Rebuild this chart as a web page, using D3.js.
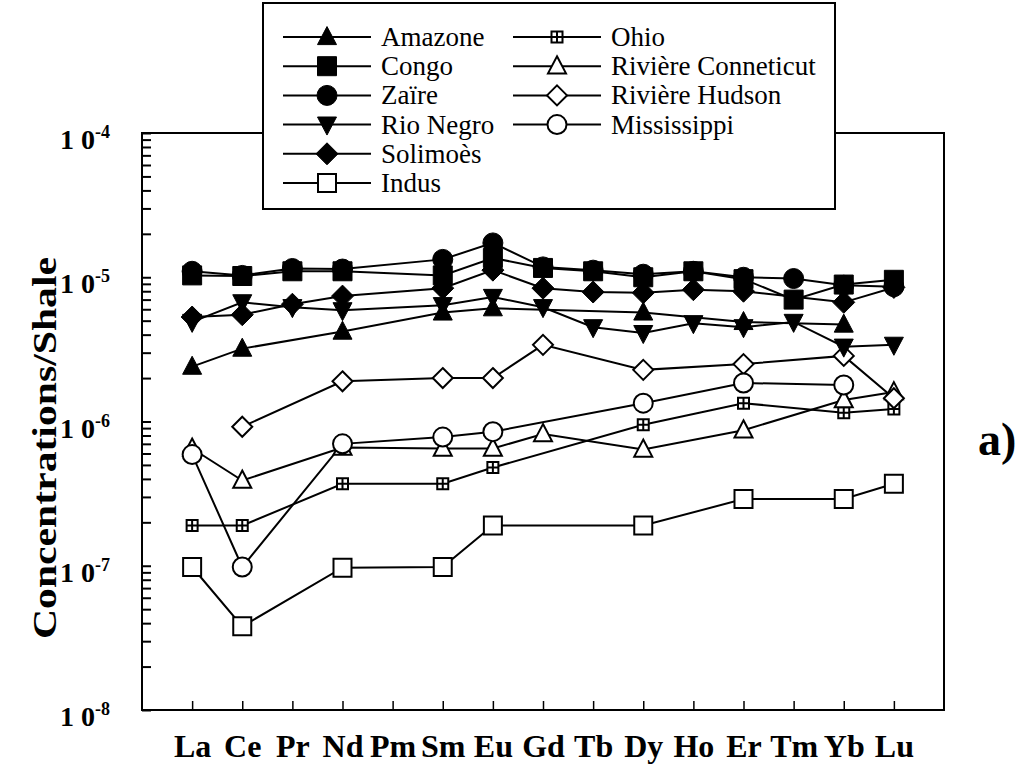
<!DOCTYPE html>
<html>
<head>
<meta charset="utf-8">
<script src="https://cdn.jsdelivr.net/npm/d3@7"></script>
<style>
  body { margin: 0; background: #fff; }
  svg { display: block; }
</style>
</head>
<body>
<div id="graph"></div>
<script>
// rare earth elements on the x axis
const elements = ["La", "Ce", "Pr", "Nd", "Pm", "Sm", "Eu", "Gd", "Tb", "Dy", "Ho", "Er", "Tm", "Yb", "Lu"]
const decades = [1e-8, 1e-7, 1e-6, 1e-5, 1e-4]
const decadeExponents = ["-8", "-7", "-6", "-5", "-4"]

// concentrations / shale, null = not measured
const amazone     = [2.4e-6, 3.2e-6, null, 4.2e-6, null, 5.7e-6, 6.1e-6, null, null, 5.7e-6, null, 4.9e-6, null, 4.7e-6, null]
const congo       = [1.03e-5, 1.02e-5, 1.1e-5, 1.1e-5, null, 1.03e-5, 1.36e-5, 1.16e-5, 1.1e-5, 1.0e-5, 1.1e-5, 9.7e-6, 7.0e-6, 8.9e-6, 9.6e-6]
const zaire       = [1.1e-5, 1.03e-5, 1.15e-5, 1.14e-5, null, 1.33e-5, 1.73e-5, 1.18e-5, 1.12e-5, 1.05e-5, 1.1e-5, 1.0e-5, 9.8e-6, 8.8e-6, 8.6e-6]
const rioNegro    = [4.9e-6, 6.7e-6, 6.2e-6, 5.9e-6, null, 6.4e-6, 7.3e-6, 6.2e-6, 4.5e-6, 4.1e-6, 4.8e-6, 4.5e-6, 4.9e-6, 3.3e-6, 3.4e-6]
const solimoes    = [5.3e-6, 5.5e-6, 6.5e-6, 7.4e-6, null, 8.4e-6, 1.12e-5, 8.4e-6, 7.9e-6, 7.8e-6, 8.2e-6, 8.0e-6, null, 6.7e-6, 8.5e-6]
const indus       = [9.8e-8, 3.8e-8, null, 9.7e-8, null, 9.8e-8, 1.9e-7, null, null, 1.9e-7, null, 2.9e-7, null, 2.9e-7, 3.7e-7]
const ohio        = [1.9e-7, 1.9e-7, null, 3.7e-7, null, 3.7e-7, 4.8e-7, null, null, 9.5e-7, null, 1.34e-6, null, 1.15e-6, 1.22e-6]
const conneticut  = [6.5e-7, 3.9e-7, null, 6.6e-7, null, 6.5e-7, 6.5e-7, 8.2e-7, null, 6.4e-7, null, 8.7e-7, null, 1.41e-6, 1.6e-6]
const hudson      = [null, 9.2e-7, null, 1.9e-6, null, 2.0e-6, 2.0e-6, 3.4e-6, null, 2.28e-6, null, 2.5e-6, null, 2.85e-6, 1.45e-6]
const mississippi = [5.9e-7, 9.8e-8, null, 7.0e-7, null, 7.8e-7, 8.5e-7, null, null, 1.34e-6, null, 1.85e-6, null, 1.79e-6, null]

const serif = "'Liberation Serif', 'DejaVu Serif', 'Times New Roman', Times, serif"

// marker shapes, size = side length squared
const half = size => Math.sqrt(size) / 2
const shapes = {
    square: { draw(ctx, size) { const r = half(size); ctx.rect(-r, -r, 2 * r, 2 * r) } },
    circle: { draw(ctx, size) { const r = half(size); ctx.moveTo(r, 0); ctx.arc(0, 0, r, 0, 2 * Math.PI) } },
    up: { draw(ctx, size) { const r = half(size); ctx.moveTo(0, -r * 1.1); ctx.lineTo(r, r * 0.8); ctx.lineTo(-r, r * 0.8); ctx.closePath() } },
    down: { draw(ctx, size) { const r = half(size); ctx.moveTo(0, r * 1.1); ctx.lineTo(r, -r * 0.8); ctx.lineTo(-r, -r * 0.8); ctx.closePath() } },
    diamond: { draw(ctx, size) { const r = half(size); ctx.moveTo(0, -r); ctx.lineTo(r, 0); ctx.lineTo(0, r); ctx.lineTo(-r, 0); ctx.closePath() } },
    boxcross: { draw(ctx, size) {
        const r = half(size)
        ctx.rect(-r, -r, 2 * r, 2 * r)
        ctx.moveTo(0, -r); ctx.lineTo(0, r)
        ctx.moveTo(-r, 0); ctx.lineTo(r, 0)
    } },
}

// legend order
const series = [
    { name: "Amazone", values: amazone, shape: "up", filled: true, side: 19 },
    { name: "Congo", values: congo, shape: "square", filled: true, side: 19 },
    { name: "Zaïre", values: zaire, shape: "circle", filled: true, side: 20 },
    { name: "Rio Negro", values: rioNegro, shape: "down", filled: true, side: 19 },
    { name: "Solimoès", values: solimoes, shape: "diamond", filled: true, side: 22 },
    { name: "Indus", values: indus, shape: "square", filled: false, side: 18 },
    { name: "Ohio", values: ohio, shape: "boxcross", filled: false, side: 11 },
    { name: "Rivière Conneticut", values: conneticut, shape: "up", filled: false, side: 18 },
    { name: "Rivière Hudson", values: hudson, shape: "diamond", filled: false, side: 20 },
    { name: "Mississippi", values: mississippi, shape: "circle", filled: false, side: 19 },
]
// drawing order of the markers (later on top)
const drawOrder = ["Indus", "Ohio", "Rivière Conneticut", "Rivière Hudson", "Mississippi",
    "Amazone", "Rio Negro", "Solimoès", "Zaïre", "Congo"]

const dimensions = { width: 1021, height: 767, left: 142, right: 944, top: 133, bottom: 710 }

const wrapper = d3.select("#graph")
    .append("svg")
    .attr("width", dimensions.width)
    .attr("height", dimensions.height)
    .attr("font-family", serif)

// scales
const xScale = d3.scaleLinear()
    .domain([-1, 15])
    .range([dimensions.left, dimensions.right])
const yScale = d3.scaleLog()
    .domain([1e-8, 1e-4])
    .range([dimensions.bottom, dimensions.top])

const symbolPath = s => d3.symbol().type(shapes[s.shape]).size(s.side * s.side)()

// frame
wrapper.append("rect")
    .attr("x", dimensions.left)
    .attr("y", dimensions.top)
    .attr("width", dimensions.right - dimensions.left)
    .attr("height", dimensions.bottom - dimensions.top)
    .attr("fill", "none")
    .attr("stroke", "#000")
    .attr("stroke-width", 2)

// y axis ticks, inside
const minorTicks = []
decades.slice(0, -1).forEach(d => { for (let k = 1; k <= 9; k++) minorTicks.push(d * k) })
minorTicks.push(1e-4)
const yAxis = wrapper.append("g")
    .attr("transform", `translate(${dimensions.left},0)`)
    .call(d3.axisRight(yScale).tickValues(minorTicks).tickSize(9).tickFormat(""))
yAxis.select(".domain").remove()
yAxis.selectAll(".tick line").attr("stroke-width", 2)

// y labels 1 0^-n
const yLabels = wrapper.append("g")
    .selectAll("text")
    .data(decades)
    .join("text")
    .attr("x", 110)
    .attr("y", d => yScale(d) + 16)
    .attr("text-anchor", "end")
    .attr("font-family", serif)
    .attr("font-weight", "bold")
    .attr("font-size", 28)
yLabels.append("tspan").text("1 0")
yLabels.append("tspan")
    .attr("font-size", 18)
    .attr("dy", -11)
    .text((d, i) => decadeExponents[i])

// x axis
const xAxis = wrapper.append("g")
    .attr("transform", `translate(0,${dimensions.bottom})`)
    .call(d3.axisBottom(xScale)
        .tickValues(d3.range(elements.length))
        .tickSize(-9)
        .tickPadding(24)
        .tickFormat(i => elements[i]))
xAxis.attr("font-family", serif)
xAxis.select(".domain").remove()
xAxis.selectAll(".tick line").attr("stroke-width", 1.5)
xAxis.selectAll(".tick text")
    .attr("font-family", serif)
    .attr("font-weight", "bold")
    .attr("font-size", 32)
    .attr("fill", "#000")

// y title
wrapper.append("text")
    .attr("transform", "translate(56,448) rotate(-90)")
    .attr("text-anchor", "middle")
    .attr("font-family", serif)
    .attr("font-weight", "bold")
    .attr("font-size", 34)
    .attr("textLength", 382)
    .attr("lengthAdjust", "spacingAndGlyphs")
    .text("Concentrations/Shale")

// panel label
wrapper.append("text")
    .attr("x", 978)
    .attr("y", 455)
    .attr("font-family", serif)
    .attr("font-weight", "bold")
    .attr("font-size", 46)
    .text("a)")

// lines
const lineGenerator = d3.line()
    .x(d => xScale(d.i))
    .y(d => yScale(d.v))
const points = s => s.values.map((v, i) => ({ i, v })).filter(d => d.v != null)

const plot = wrapper.append("g")
plot.selectAll("path.series")
    .data(series)
    .join("path")
    .attr("class", "series")
    .attr("d", s => lineGenerator(points(s)))
    .attr("fill", "none")
    .attr("stroke", "#000")
    .attr("stroke-width", 2)

// markers
drawOrder.map(n => series.find(s => s.name === n)).forEach(s => {
    plot.append("g")
        .selectAll("path")
        .data(points(s))
        .join("path")
        .attr("transform", d => `translate(${xScale(d.i)},${yScale(d.v)})`)
        .attr("d", symbolPath(s))
        .attr("fill", s.filled ? "#000" : "#fff")
        .attr("stroke", "#000")
        .attr("stroke-width", s.filled ? 1 : 2)
})

// legend
const legend = wrapper.append("g")
legend.append("rect")
    .attr("x", 263)
    .attr("y", 3)
    .attr("width", 572)
    .attr("height", 206)
    .attr("fill", "#fff")
    .attr("stroke", "#000")
    .attr("stroke-width", 2)

const legendItems = legend.selectAll("g.item")
    .data(series)
    .join("g")
    .attr("class", "item")
    .attr("transform", (s, i) => {
        const col = i < 6 ? 0 : 1
        const row = i < 6 ? i : i - 6
        return `translate(${col === 0 ? 283 : 513},${37 + row * 29.2})`
    })
legendItems.append("line")
    .attr("x1", 0)
    .attr("x2", 88)
    .attr("stroke", "#000")
    .attr("stroke-width", 2)
legendItems.append("path")
    .attr("transform", "translate(44,0)")
    .attr("d", symbolPath)
    .attr("fill", s => s.filled ? "#000" : "#fff")
    .attr("stroke", "#000")
    .attr("stroke-width", s => s.filled ? 1 : 2)
legendItems.append("text")
    .attr("x", 98)
    .attr("y", 9)
    .attr("font-family", serif)
    .attr("font-size", 27)
    .text(s => s.name)
</script>
</body>
</html>
